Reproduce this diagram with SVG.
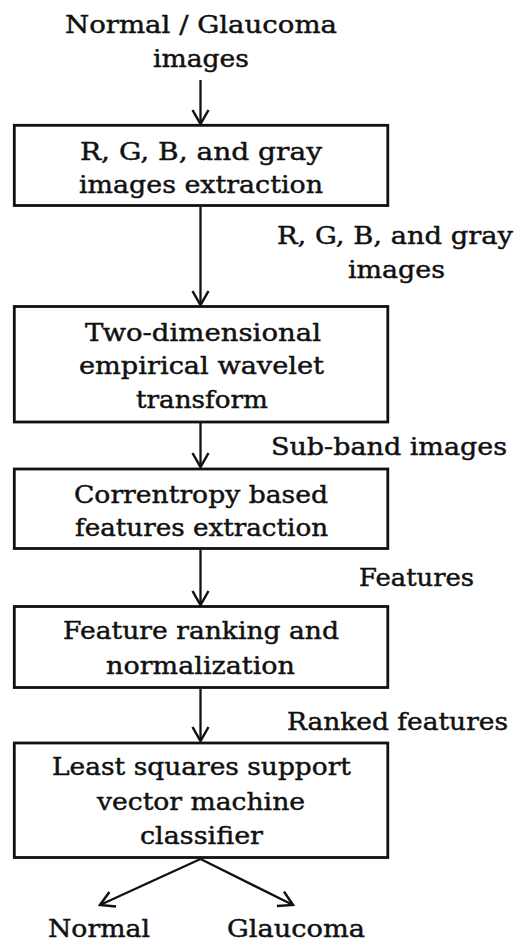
<svg xmlns="http://www.w3.org/2000/svg" width="515" height="943" viewBox="0 0 515 943">
<defs>
<style>
.box{fill:#fff;stroke:#111;stroke-width:2.8}
.t{font-family:"DejaVu Serif","Liberation Serif",serif;font-size:24px;fill:#111;stroke:#111;stroke-width:0.45;text-anchor:middle}
.c{fill:none;stroke:#111;stroke-width:2.3}
</style>
<marker id="ah" viewBox="-16 -10 18 20" refX="0" refY="0" markerWidth="18" markerHeight="20" markerUnits="userSpaceOnUse" orient="auto">
<path d="M-14,-8 L0,0 L-14,8" fill="none" stroke="#111" stroke-width="2.5"/>
</marker>
</defs>
<rect width="515" height="943" fill="#fff"/>
<g id="connectors">
<line class="c" x1="200.5" y1="80" x2="200.5" y2="124" marker-end="url(#ah)"/>
<line class="c" x1="200.5" y1="207" x2="200.5" y2="305" marker-end="url(#ah)"/>
<line class="c" x1="200.5" y1="423" x2="200.5" y2="467" marker-end="url(#ah)"/>
<line class="c" x1="200.5" y1="550" x2="200.5" y2="605" marker-end="url(#ah)"/>
<line class="c" x1="200.5" y1="689" x2="200.5" y2="741" marker-end="url(#ah)"/>
<line class="c" x1="200.5" y1="859" x2="100" y2="905" marker-end="url(#ah)"/>
<line class="c" x1="200.5" y1="859" x2="293" y2="905" marker-end="url(#ah)"/>
<text class="t" x="395" y="244" textLength="236" lengthAdjust="spacingAndGlyphs">R, G, B, and gray</text>
<text class="t" x="396.5" y="278" textLength="97" lengthAdjust="spacingAndGlyphs">images</text>
<text class="t" x="389" y="455" textLength="236" lengthAdjust="spacingAndGlyphs">Sub-band images</text>
<text class="t" x="416.5" y="586" textLength="115" lengthAdjust="spacingAndGlyphs">Features</text>
<text class="t" x="397.5" y="730" textLength="221" lengthAdjust="spacingAndGlyphs">Ranked features</text>
</g>
<g id="input">
<text class="t" x="201" y="33" textLength="272" lengthAdjust="spacingAndGlyphs">Normal / Glaucoma</text>
<text class="t" x="201" y="67" textLength="96" lengthAdjust="spacingAndGlyphs">images</text>
</g>
<g id="rgb">
<rect class="box" x="14.3" y="125.3" width="373.5" height="80.2"/>
<text class="t" x="201" y="160" textLength="242" lengthAdjust="spacingAndGlyphs">R, G, B, and gray</text>
<text class="t" x="201" y="193" textLength="244" lengthAdjust="spacingAndGlyphs">images extraction</text>
</g>
<g id="ewt">
<rect class="box" x="14.3" y="306.5" width="373.5" height="115.5"/>
<text class="t" x="203" y="341" textLength="236" lengthAdjust="spacingAndGlyphs">Two-dimensional</text>
<text class="t" x="201.5" y="374" textLength="245" lengthAdjust="spacingAndGlyphs">empirical wavelet</text>
<text class="t" x="202" y="408" textLength="132" lengthAdjust="spacingAndGlyphs">transform</text>
</g>
<g id="correntropy">
<rect class="box" x="14.3" y="469" width="373.5" height="79.5"/>
<text class="t" x="201" y="503" textLength="254" lengthAdjust="spacingAndGlyphs">Correntropy based</text>
<text class="t" x="201.5" y="536" textLength="253" lengthAdjust="spacingAndGlyphs">features extraction</text>
</g>
<g id="ranking">
<rect class="box" x="14.3" y="606.5" width="373.5" height="81"/>
<text class="t" x="201" y="639" textLength="276" lengthAdjust="spacingAndGlyphs">Feature ranking and</text>
<text class="t" x="200.5" y="674" textLength="189" lengthAdjust="spacingAndGlyphs">normalization</text>
</g>
<g id="lssvm">
<rect class="box" x="14.3" y="743" width="373.5" height="114.5"/>
<text class="t" x="201.5" y="775" textLength="299" lengthAdjust="spacingAndGlyphs">Least squares support</text>
<text class="t" x="201" y="810" textLength="208" lengthAdjust="spacingAndGlyphs">vector machine</text>
<text class="t" x="201.5" y="844" textLength="123" lengthAdjust="spacingAndGlyphs">classifier</text>
</g>
<g id="normal">
<text class="t" x="99" y="937" textLength="102" lengthAdjust="spacingAndGlyphs">Normal</text>
</g>
<g id="glaucoma">
<text class="t" x="296" y="937" textLength="138" lengthAdjust="spacingAndGlyphs">Glaucoma</text>
</g>
</svg>
